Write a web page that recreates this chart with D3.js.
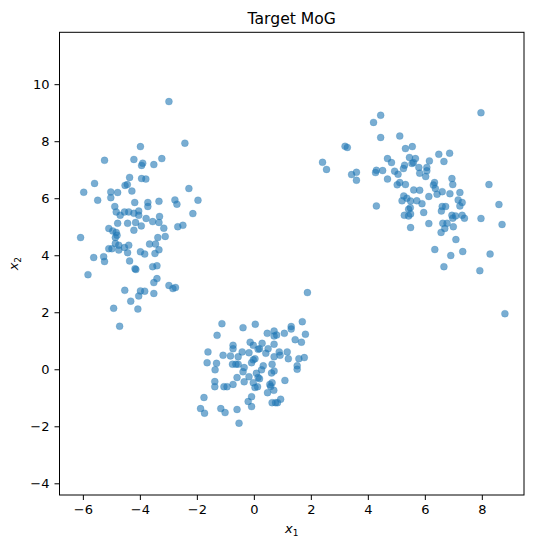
<!DOCTYPE html>
<html>
<head>
<meta charset="utf-8">
<script src="https://cdn.jsdelivr.net/npm/d3@7"></script>
<style>
  body { margin: 0; background: #fff; }
  text { font-family: "DejaVu Sans", sans-serif; fill: #000; }
</style>
</head>
<body>
<svg class="svg1" width="535" height="548"></svg>
<script>
// samples, one list per mixture component
var clusterLeft = [
    [-2.98,9.39],[-2.42,7.93],[-3.98,7.81],[-5.24,7.33],[-4.21,7.36],[-3.90,7.23],[-3.94,7.15],[-3.51,7.18],
    [-3.23,7.39],[-4.36,6.73],[-3.94,6.69],[-3.79,6.67],[-5.59,6.52],[-4.52,6.45],[-4.44,6.48],[-5.97,6.21],
    [-5.02,6.22],[-4.78,6.20],[-4.28,6.25],[-2.28,6.34],[-5.48,5.93],[-5.02,6.02],[-4.18,5.85],[-3.72,5.85],
    [-3.72,5.71],[-3.33,5.89],[-2.77,5.94],[-2.70,5.79],[-1.96,5.93],[-4.88,5.71],[-2.14,5.46],
    [-4.83,5.52],[-4.69,5.40],[-4.54,5.52],[-4.39,5.52],[-4.21,5.47],[-4.04,5.55],[-4.04,5.40],[-3.78,5.29],
    [-3.31,5.36],[-4.78,5.12],[-4.43,5.12],[-4.15,5.15],[-3.95,5.03],[-3.55,5.18],[-3.33,5.15],[-3.16,4.95],
    [-2.67,5.00],[-2.49,5.05],[-5.09,4.94],[-4.95,4.85],[-4.83,4.80],[-4.21,4.88],[-6.08,4.62],[-4.86,4.62],
    [-4.80,4.70],[-3.37,4.62],[-3.11,4.66],[-4.86,4.41],[-4.74,4.35],[-4.54,4.27],[-4.39,4.35],[-5.09,4.23],
    [-4.98,4.23],[-4.74,4.18],[-4.43,4.09],[-3.66,4.39],[-3.45,4.39],[-3.33,4.19],[-3.98,4.12],[-3.83,4.04],
    [-3.47,4.06],[-5.62,3.92],[-5.27,3.95],[-5.24,3.78],[-4.36,3.80],[-4.17,3.53],[-4.14,3.50],[-3.55,3.60],
    [-3.40,3.63],[-5.82,3.32],[-3.40,3.18],[-3.51,3.04],[-2.98,2.94],[-2.84,2.83],[-2.75,2.87],[-4.53,2.77],
    [-3.98,2.75],[-3.83,2.74],[-4.04,2.57],[-3.51,2.66],[-4.32,2.39],[-4.92,2.14],[-4.07,2.11],[-4.71,1.51]
];

var clusterBottom = [
    [1.88,2.69],[-1.12,1.60],[-1.29,1.19],[-0.38,1.46],[0.05,1.58],[1.70,1.67],[1.31,1.50],[1.31,1.41],
    [0.47,1.26],[0.71,1.34],[0.71,1.17],[0.80,1.20],[1.07,1.26],[1.81,1.23],[1.45,1.04],[1.67,0.95],
    [-0.13,0.95],[-0.02,0.84],[0.29,0.91],[0.71,0.88],[-0.73,0.84],[-0.73,0.72],[-1.61,0.61],[-0.41,0.61],
    [-0.17,0.58],[0.15,0.70],[0.20,0.72],[0.50,0.72],[0.89,0.61],[1.17,0.61],
    [-1.08,0.49],[-0.82,0.47],[-0.55,0.44],[0.04,0.37],[-0.02,0.33],[0.42,0.56],[0.71,0.44],[0.92,0.49],
    [1.21,0.37],[1.58,0.37],[1.77,0.41],[-1.64,0.23],[-1.31,0.21],[-1.36,-0.02],[-0.75,0.18],[-0.63,0.18],
    [-0.55,0.18],[-0.34,0.06],[-0.38,-0.09],[-0.08,0.23],[0.33,0.12],[0.27,-0.02],[0.64,0.18],[0.71,-0.06],
    [0.62,-0.13],[1.52,0.12],[1.52,0.00],[-0.59,-0.29],[-0.17,-0.26],[0.09,-0.14],[0.15,-0.29],[0.20,-0.33],
    [-0.34,-0.44],[-0.02,-0.47],[-1.37,-0.43],[-1.37,-0.61],[-1.05,-0.61],[-0.94,-0.61],[-0.73,-0.53],[0.04,-0.64],
    [0.13,-0.61],[0.56,-0.53],[0.59,-0.60],[0.64,-0.47],[1.09,-0.39],[0.70,-0.74],[0.48,-0.82],[-0.08,-0.96],
    [-1.75,-0.99],[-0.20,-1.13],[0.64,-1.17],[0.76,-1.17],[0.83,-1.17],[0.94,-1.05],[-0.08,-1.31],[-1.87,-1.38],
    [-1.73,-1.54],[-1.16,-1.38],[-1.01,-1.52],[-0.59,-1.41],[-0.52,-1.89]
];

var clusterRight = [
    [4.45,8.91],[4.20,8.66],[4.45,8.13],[5.12,8.18],[3.20,7.82],[3.28,7.78],[5.56,7.81],[5.32,7.74],
    [2.41,7.26],[2.55,7.01],[4.69,7.39],[4.83,7.25],[5.46,7.43],[5.60,7.25],[5.29,7.16],[5.25,7.04],
    [3.43,6.83],[3.60,6.91],[3.60,6.63],[4.30,6.98],[4.27,6.90],[4.52,6.97],[4.94,6.95],[5.06,6.84],
    [4.69,6.67],[5.12,6.55],[5.03,6.47],[5.32,6.48],[5.61,6.29],[5.26,6.08],[5.20,5.91],[5.37,6.00],
    [5.50,5.90],[4.30,5.73],
    [7.97,9.00],[6.49,7.54],[6.87,7.58],[6.67,7.29],[5.67,7.39],[5.55,7.22],[6.16,7.31],[5.79,7.08],
    [6.07,7.08],[6.07,6.96],[5.82,6.88],[6.03,6.76],[6.34,6.55],[6.30,6.46],[6.37,6.34],[6.95,6.69],
    [6.98,6.48],[8.25,6.48],[5.82,6.28],[6.61,6.23],[6.43,6.14],[6.14,6.06],[6.88,6.16],[7.23,6.20],
    [7.17,5.94],[7.31,5.85],[5.72,5.91],[5.90,5.81],[8.60,5.78],[6.61,5.71],[6.73,5.71],[7.23,5.73],
    [5.49,5.67],[5.28,5.40],[5.43,5.38],[5.50,5.45],[5.50,4.97],
    [5.43,5.61],[5.96,5.50],[6.14,5.11],[6.58,5.55],[6.95,5.40],[7.08,5.38],[6.98,5.30],[7.31,5.40],
    [7.39,5.30],[7.97,5.29],[8.71,5.08],[6.63,5.12],[6.78,5.12],[6.70,4.94],[7.00,5.00],[6.57,4.80],
    [7.09,4.55],[6.35,4.20],[6.91,3.99],[7.33,4.13],[8.29,4.04],[6.67,3.60],[7.93,3.46],[8.81,1.95]
];

var xTickVals = [-6, -4, -2, 0, 2, 4, 6, 8];
var yTickVals = [-4, -2, 0, 2, 4, 6, 8, 10];
var xDomain = [-6.82, 9.48];
var yDomain = [-4.41, 11.82];

var MARGIN = { left: 59.5, right: 11, top: 32.3, bottom: 53 };

svg1 = d3.select(".svg1");
var width = +svg1.attr("width");
var height = +svg1.attr("height");

var scaleX = d3.scaleLinear()
    .domain(xDomain)
    .range([MARGIN.left, width - MARGIN.right]);

var scaleY = d3.scaleLinear()
    .domain(yDomain)
    .range([height - MARGIN.bottom, MARGIN.top]);

var allPoints = [...clusterLeft, ...clusterBottom, ...clusterRight];

svg1.append("g")
    .selectAll("circle")
    .data(allPoints)
    .enter()
    .append("circle")
    .attr("cx", function(d) { return scaleX(d[0]); })
    .attr("cy", function(d) { return scaleY(d[1]); })
    .attr("r", 3.5)
    .attr("fill", "#1f77b4")
    .attr("fill-opacity", 0.6)
    .attr("stroke", "#1f77b4")
    .attr("stroke-opacity", 0.25)
    .attr("stroke-width", 0.8);

var xAxis = d3.axisBottom(scaleX).tickValues(xTickVals).tickSize(5).tickPadding(5);
var yAxis = d3.axisLeft(scaleY).tickValues(yTickVals).tickSize(5).tickPadding(5);

var gx = svg1.append("g")
    .attr("transform", "translate(0," + (height - MARGIN.bottom) + ")")
    .call(xAxis);
var gy = svg1.append("g")
    .attr("transform", "translate(" + MARGIN.left + ",0)")
    .call(yAxis);

[gx, gy].forEach(function(g) {
    g.select(".domain").remove();
    g.selectAll("line").attr("stroke", "#000").attr("stroke-width", 1);
    g.selectAll("text")
        .style("font-family", "'DejaVu Sans', sans-serif")
        .style("font-size", "13px")
        .attr("fill", "#000");
});

// frame round the plot area
svg1.append("rect")
    .attr("x", MARGIN.left)
    .attr("y", MARGIN.top)
    .attr("width", width - MARGIN.left - MARGIN.right)
    .attr("height", height - MARGIN.top - MARGIN.bottom)
    .attr("fill", "none")
    .attr("stroke", "#000")
    .attr("stroke-width", 1);

var midX = (MARGIN.left + width - MARGIN.right) / 2;
var midY = (MARGIN.top + height - MARGIN.bottom) / 2;

svg1.append("text")
    .attr("x", midX)
    .attr("y", 24.3)
    .attr("text-anchor", "middle")
    .style("font-size", "15.6px")
    .text("Target MoG");

var xl = svg1.append("text")
    .attr("x", midX)
    .attr("y", 533)
    .attr("text-anchor", "middle")
    .style("font-size", "13px");
xl.append("tspan").style("font-style", "italic").text("x");
xl.append("tspan").attr("dy", 3).style("font-size", "9px").text("1");

var yl = svg1.append("text")
    .attr("transform", "translate(18," + midY + ") rotate(-90)")
    .attr("text-anchor", "middle")
    .style("font-size", "13px");
yl.append("tspan").style("font-style", "italic").text("x");
yl.append("tspan").attr("dy", 3).style("font-size", "9px").text("2");
</script>
</body>
</html>
